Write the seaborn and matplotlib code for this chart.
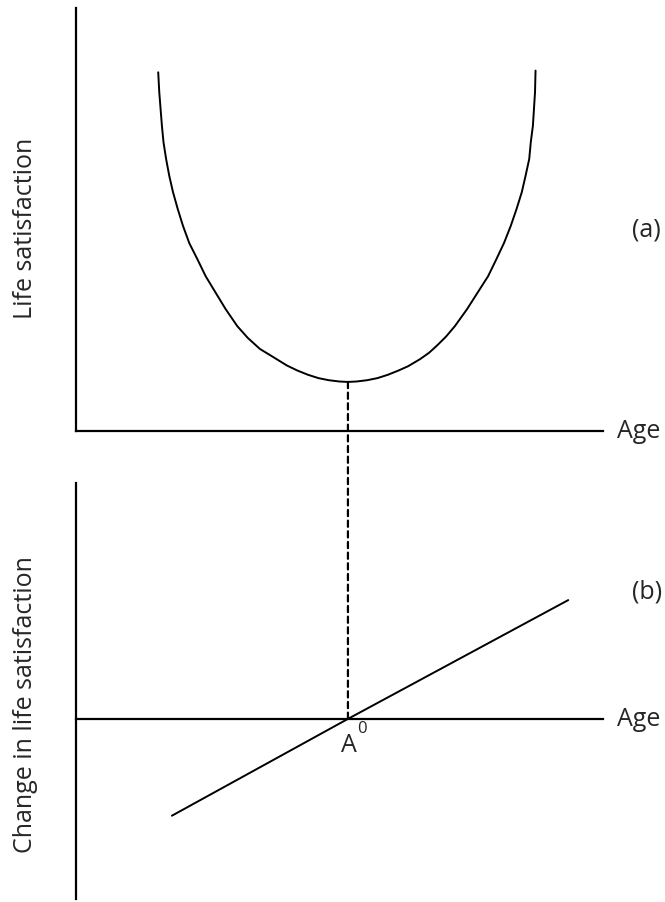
"""U-shaped life satisfaction over age and its rate of change."""
import numpy as np
import pandas as pd
import matplotlib.pyplot as plt
from matplotlib.patches import ConnectionPatch
import seaborn as sns

sns.set_style("white")
plt.rcParams["font.family"] = ["Open Sans", "DejaVu Sans"]

# ── data ──────────────────────────────────────────────────────────────────────
AGE_U = [15.6, 15.8, 16.3, 16.6, 17.1, 17.7, 18.4, 19.3, 20.3, 21.5, 23.0, 24.6,
         26.4, 28.4, 30.6, 32.6, 34.9, 37.4, 40.0, 42.0, 44.0, 46.0, 48.0, 50.0,
         51.6, 53.2, 55.2, 57.2, 59.2, 61.2, 63.0, 65.3, 67.0, 68.5, 70.2, 71.9,
         74.2, 76.3, 78.2, 79.8, 81.2, 82.5, 83.6, 84.6, 85.3, 86.0, 86.3, 86.7,
         87.1, 87.2]
SAT_U = [84.8, 80.1, 72.2, 68.3, 64.3, 60.3, 56.5, 52.5, 48.5, 44.4, 40.7, 36.6,
         32.9, 28.8, 24.8, 22.0, 19.4, 17.5, 15.5, 14.3, 13.3, 12.5, 12.0, 11.7,
         11.6, 11.7, 12.0, 12.5, 13.3, 14.3, 15.3, 17.0, 18.5, 20.2, 22.3, 24.8,
         28.8, 32.9, 36.6, 40.7, 44.4, 48.5, 52.5, 56.5, 60.3, 64.3, 68.3, 72.2,
         80.1, 85.2]
AGE_D = [18.2, 51.6, 93.4]
DSAT  = [-22.9, 0.0, 28.1]
A0 = 51.6
A0_SAT = 11.6

AGE_LIM   = (0, 100)
SAT_LIM   = (0, 100)
DSAT_LIM  = (-42.6, 55.8)

W, H = 665, 903
fig = plt.figure(figsize=(W / 100, H / 100), dpi=100)

def px_axes(x0, y0, x1, y1):
    # axes box given in pixel coords (top-left origin)
    return fig.add_axes([x0 / W, 1 - y1 / H, (x1 - x0) / W, (y1 - y0) / H])

ax_a = px_axes(76, 9, 603, 432)
ax_b = px_axes(76, 484, 603, 900)

for ax in (ax_a, ax_b):
    ax.set_facecolor("none")
    for s in ("top", "right"):
        ax.spines[s].set_visible(False)
    for s in ("left", "bottom"):
        ax.spines[s].set_color("black")
        ax.spines[s].set_linewidth(1.6)
    ax.set_xticks([])
    ax.set_yticks([])
    ax.set_xlim(*AGE_LIM)

# ── (a) life satisfaction ─────────────────────────────────────────────────────
df_u = pd.DataFrame({"age": AGE_U, "sat": SAT_U})
sns.lineplot(data=df_u, x="age", y="sat", ax=ax_a, color="black",
             linewidth=1.4, sort=False, solid_joinstyle="round")
ax_a.set_ylim(*SAT_LIM)
ax_a.set_xlabel("")
ax_a.set_ylabel("")

# ── (b) change in life satisfaction ───────────────────────────────────────────
df_d = pd.DataFrame({"age": AGE_D, "dsat": DSAT})
sns.lineplot(data=df_d, x="age", y="dsat", ax=ax_b, color="black",
             linewidth=1.4)
ax_b.set_ylim(*DSAT_LIM)
ax_b.spines["bottom"].set_position(("data", 0))
ax_b.set_xlabel("")
ax_b.set_ylabel("")

# dashed link from minimum down to A0
con = ConnectionPatch(xyA=(A0, A0_SAT), coordsA=ax_a.transData,
                      xyB=(A0, 0), coordsB=ax_b.transData,
                      color="black", linewidth=1.6, linestyle=(0, (2.8, 2.0)))
fig.add_artist(con)

# ── text ──────────────────────────────────────────────────────────────────────
FS = 18
fig.text(26 / W, 1 - 228 / H, "Life satisfaction", rotation=90,
         ha="center", va="center", fontsize=FS)
fig.text(26 / W, 1 - 705 / H, "Change in life satisfaction", rotation=90,
         ha="center", va="center", fontsize=FS)
fig.text(617 / W, 1 - 432 / H, "Age", ha="left", va="center", fontsize=FS)
fig.text(617 / W, 1 - 720 / H, "Age", ha="left", va="center", fontsize=FS)
fig.text(632 / W, 1 - 230 / H, "(a)", ha="left", va="center", fontsize=FS)
fig.text(632 / W, 1 - 592 / H, "(b)", ha="left", va="center", fontsize=FS)
ax_b.annotate("A", xy=(A0, 0), xytext=(1, -32), textcoords="offset pixels",
              ha="center", va="baseline", fontsize=FS)
ax_b.annotate("0", xy=(A0, 0), xytext=(9, -13), textcoords="offset pixels",
              ha="left", va="baseline", fontsize=12)

fig.savefig("out.png", dpi=100)
